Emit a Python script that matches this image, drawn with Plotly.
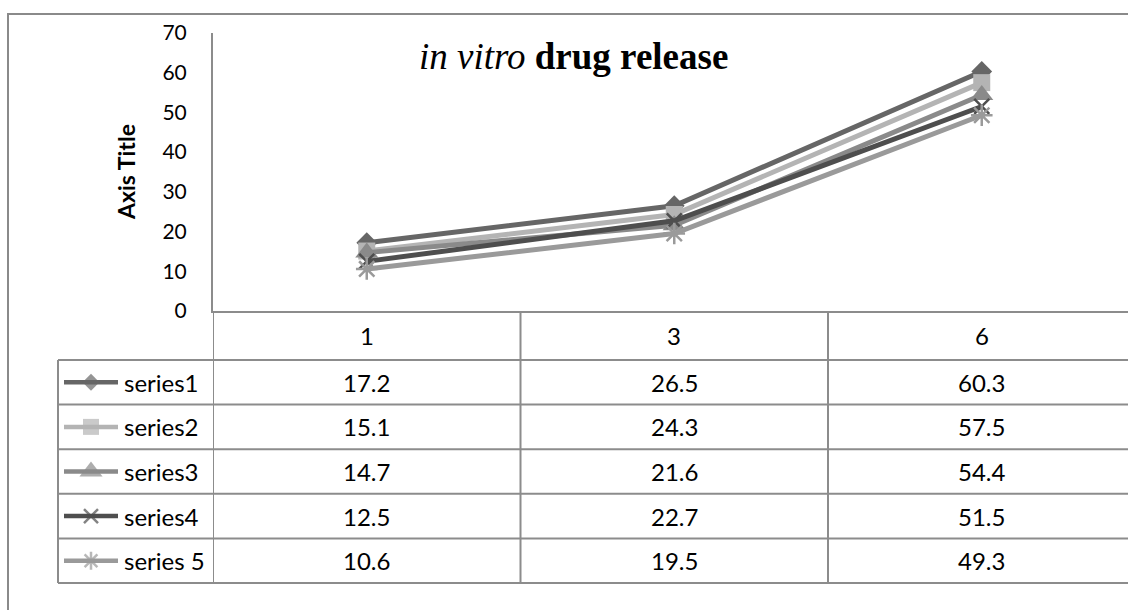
import plotly.graph_objects as go

# ---------------- data ----------------
categories = ["1", "3", "6"]
series_names = ["series1", "series2", "series3", "series4", "series 5"]
series1 = [17.2, 26.5, 60.3]
series2 = [15.1, 24.3, 57.5]
series3 = [14.7, 21.6, 54.4]
series4 = [12.5, 22.7, 51.5]
series5 = [10.6, 19.5, 49.3]
y_ticks = [0, 10, 20, 30, 40, 50, 60, 70]
chart_title = "<i>in vitro</i> <b>drug release</b>"
y_title = "<b>Axis Title</b>"

all_series = [series1, series2, series3, series4, series5]

# ---------------- styles ----------------
W, H = 1128, 610
colors = ["#666666", "#b4b4b4", "#8a8a8a", "#4e4e4e", "#9a9a9a"]
symbols = ["diamond", "square", "triangle-up", "x-thin-open", "asterisk-open"]
plot_sizes = [16, 17, 20, 15, 18]
key_sizes = [13, 16, 20, 14, 15]
grid_col = "#8c8c8c"
FONT = "Lato"

plot_left, plot_top, plot_bottom = 213, 33, 311
col_w = 307.5
table_left = 58
row_lines = [360, 404.6, 449.2, 493.8, 538.4, 583]
header_center = (plot_bottom + row_lines[0]) / 2


def px(x):
    return x / W


def py(y):
    return 1 - y / H


fig = go.Figure()

# data series
for name, vals, c, sym, sz in zip(series_names, all_series, colors, symbols, plot_sizes):
    open_sym = sym.endswith("open")
    fig.add_trace(go.Scatter(
        x=categories, y=vals, name=name, mode="lines+markers",
        line=dict(color=c, width=5),
        marker=dict(symbol=sym, size=sz, color=c,
                    line=dict(color=c, width=2.5 if open_sym else 0)),
        cliponaxis=False, showlegend=False, xaxis="x", yaxis="y",
    ))

# legend keys in the table (pixel overlay axes)
for i, (c, sym, sz) in enumerate(zip(colors, symbols, key_sizes)):
    yc = (row_lines[i] + row_lines[i + 1]) / 2
    open_sym = sym.endswith("open")
    fig.add_trace(go.Scatter(
        x=[64, 91, 118], y=[yc, yc, yc], mode="lines+markers",
        line=dict(color=c, width=4.5),
        marker=dict(symbol=sym, size=[0, sz, 0], color=c,
                    line=dict(color=c, width=2.5 if open_sym else 0)),
        showlegend=False, xaxis="x2", yaxis="y2", hoverinfo="skip",
    ))

shapes = []
# outer chart border
shapes.append(dict(type="rect", xref="paper", yref="paper",
                   x0=px(8), x1=px(W + 20), y0=py(14), y1=py(H + 20),
                   line=dict(color="#8a8a8a", width=2)))
# table horizontal lines
for ry in row_lines:
    shapes.append(dict(type="line", xref="paper", yref="paper",
                       x0=px(table_left), x1=1.02, y0=py(ry), y1=py(ry),
                       line=dict(color=grid_col, width=2)))
# left edge of legend column
shapes.append(dict(type="line", xref="paper", yref="paper",
                   x0=px(table_left), x1=px(table_left),
                   y0=py(row_lines[0]), y1=py(row_lines[-1]),
                   line=dict(color=grid_col, width=2)))
# column separators (category boundaries through the x axis)
for b in [-0.5, 0.5, 1.5]:
    shapes.append(dict(type="line", xref="x", yref="paper",
                       x0=b, x1=b, y0=py(plot_bottom), y1=py(row_lines[-1]),
                       line=dict(color=grid_col, width=2)))

annotations = []
tfont = dict(family=FONT, size=24, color="#000000")
# header row: categories
for j, cat in enumerate(categories):
    annotations.append(dict(xref="x", yref="paper", x=j, y=py(header_center),
                            text=cat, showarrow=False, font=tfont,
                            xanchor="center", yanchor="middle"))
# value cells and series names
for i, (name, vals) in enumerate(zip(series_names, all_series)):
    yc = (row_lines[i] + row_lines[i + 1]) / 2
    annotations.append(dict(xref="paper", yref="paper", x=px(122), y=py(yc),
                            text=name, showarrow=False, font=tfont,
                            xanchor="left", yanchor="middle"))
    for j, v in enumerate(vals):
        annotations.append(dict(xref="x", yref="paper", x=j, y=py(yc),
                                text=f"{v:.1f}", showarrow=False, font=tfont,
                                xanchor="center", yanchor="middle"))
# chart title
annotations.append(dict(xref="paper", yref="paper", x=px(573), y=py(57),
                        text=chart_title, showarrow=False,
                        font=dict(family="Liberation Serif", size=37, color="#000000"),
                        xanchor="center", yanchor="middle"))
# y axis title
annotations.append(dict(xref="paper", yref="paper", x=px(126), y=py(172),
                        text=y_title, showarrow=False, textangle=-90,
                        font=dict(family=FONT, size=23, color="#000000"),
                        xanchor="center", yanchor="middle"))

fig.update_layout(
    width=W, height=H,
    margin=dict(l=0, r=0, t=0, b=0, autoexpand=False),
    paper_bgcolor="white", plot_bgcolor="rgba(0,0,0,0)",
    xaxis=dict(type="category", domain=[px(plot_left), 1],
               range=[-0.5, -0.5 + (W - plot_left) / col_w],
               showticklabels=False, ticks="", showgrid=False, zeroline=False,
               showline=True, linecolor=grid_col, linewidth=2, fixedrange=True,
               automargin=False),
    yaxis=dict(domain=[py(plot_bottom), py(plot_top)], range=[0, 70],
               tickvals=y_ticks, ticks="", showgrid=False, zeroline=False,
               showline=True, linecolor=grid_col, linewidth=2,
               tickfont=dict(family=FONT, size=21, color="#000000"),
               ticklabelstandoff=20, fixedrange=True, automargin=False),
    xaxis2=dict(domain=[0, 1], range=[0, W], visible=False, fixedrange=True,
                automargin=False),
    yaxis2=dict(domain=[0, 1], range=[H, 0], visible=False, fixedrange=True,
                anchor="x2", automargin=False),
    shapes=shapes, annotations=annotations,
    showlegend=False,
)

fig.write_html("out.html")
